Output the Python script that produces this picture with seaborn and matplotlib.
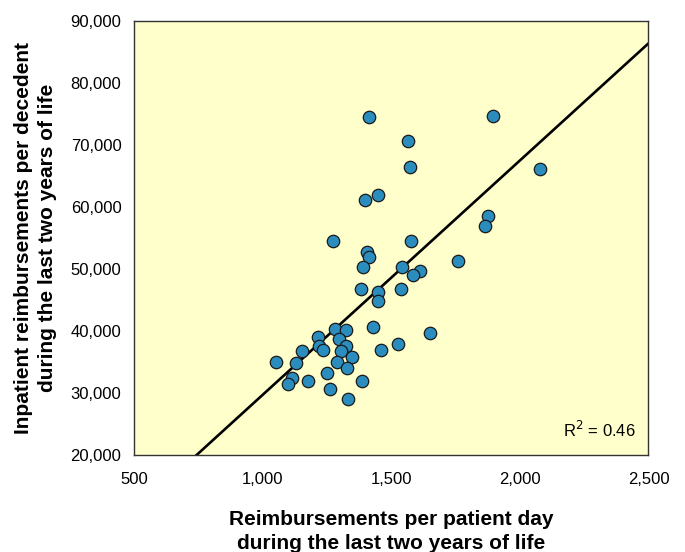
import numpy as np
import pandas as pd
import seaborn as sns
import matplotlib.pyplot as plt
from matplotlib.ticker import FuncFormatter

# reimbursements per patient day (x) vs inpatient reimbursements per decedent (y)
per_day = [1413, 1567, 1572, 1397, 1450, 1272, 1576, 1404, 1415, 1391,
           1542, 1611, 1585, 1382, 1449, 1537, 1449, 1428, 1651, 1281,
           1323, 1217, 1296, 1220, 1233, 1324, 1304, 1349, 1155, 1051,
           1129, 1288, 1327, 1252, 1115, 1097, 1178, 1388, 1261, 1332,
           1461, 1528, 1897, 2078, 1875, 1863, 1759]
per_decedent = [74600, 70600, 66400, 61200, 61900, 54600, 54500, 52700, 51900, 50300,
                50300, 49700, 49100, 46800, 46300, 46800, 44800, 40700, 39600, 40300,
                40100, 39100, 38700, 37600, 36900, 37600, 36700, 35800, 36800, 35000,
                34800, 35000, 34000, 33300, 32400, 31400, 32000, 32000, 30700, 29100,
                37000, 37900, 74700, 66100, 58600, 56900, 51300]

# trend line as drawn in the chart (slope, intercept)
fit_slope = 37.8
fit_intercept = -8100
r_squared = 0.46

df = pd.DataFrame({'per_day': per_day, 'per_decedent': per_decedent})
fit_x = np.array([500, 2500])
fit = pd.DataFrame({'x': fit_x, 'y': fit_slope * fit_x + fit_intercept})

sns.set_style('white')
plt.rcParams['font.family'] = ['Liberation Sans', 'DejaVu Sans']
plt.rcParams['text.color'] = 'black'
plt.rcParams['axes.labelcolor'] = 'black'
plt.rcParams['xtick.color'] = 'black'
plt.rcParams['ytick.color'] = 'black'

fig = plt.figure(figsize=(6.85, 5.52), dpi=100)
ax = fig.add_axes([0.1956, 0.1757, 0.7511, 0.7862])
ax.set_facecolor('#FFFFCC')

sns.lineplot(data=fit, x='x', y='y', ax=ax, color='black', lw=1.9, zorder=2)
sns.scatterplot(data=df, x='per_day', y='per_decedent', ax=ax, s=80, color='#2B8CBE',
                edgecolor='#1a1a1a', linewidth=0.9, zorder=3)

ax.set_xlim(500, 2500)
ax.set_ylim(20000, 90000)
ax.set_xticks([500, 1000, 1500, 2000, 2500])
ax.set_yticks(range(20000, 90001, 10000))
ax.xaxis.set_major_formatter(FuncFormatter(lambda v, p: f'{int(v):,}'))
ax.yaxis.set_major_formatter(FuncFormatter(lambda v, p: f'{int(v):,}'))
ax.tick_params(length=0, labelsize=12, pad=9)
ax.tick_params(axis='x', pad=12)

for s in ax.spines.values():
    s.set_color('#333333')
    s.set_linewidth(1.0)

ax.set_xlabel('Reimbursements per patient day\nduring the last two years of life',
              fontsize=15, fontweight='bold', labelpad=17, linespacing=1.3)
ax.set_ylabel('Inpatient reimbursements per decedent\nduring the last two years of life',
              fontsize=15, fontweight='bold', labelpad=10, linespacing=1.3)

ax.text(0.975, 0.035, f'R$^2$ = {r_squared}', transform=ax.transAxes,
        ha='right', va='bottom', fontsize=12)

fig.savefig('out.png', dpi=100)
